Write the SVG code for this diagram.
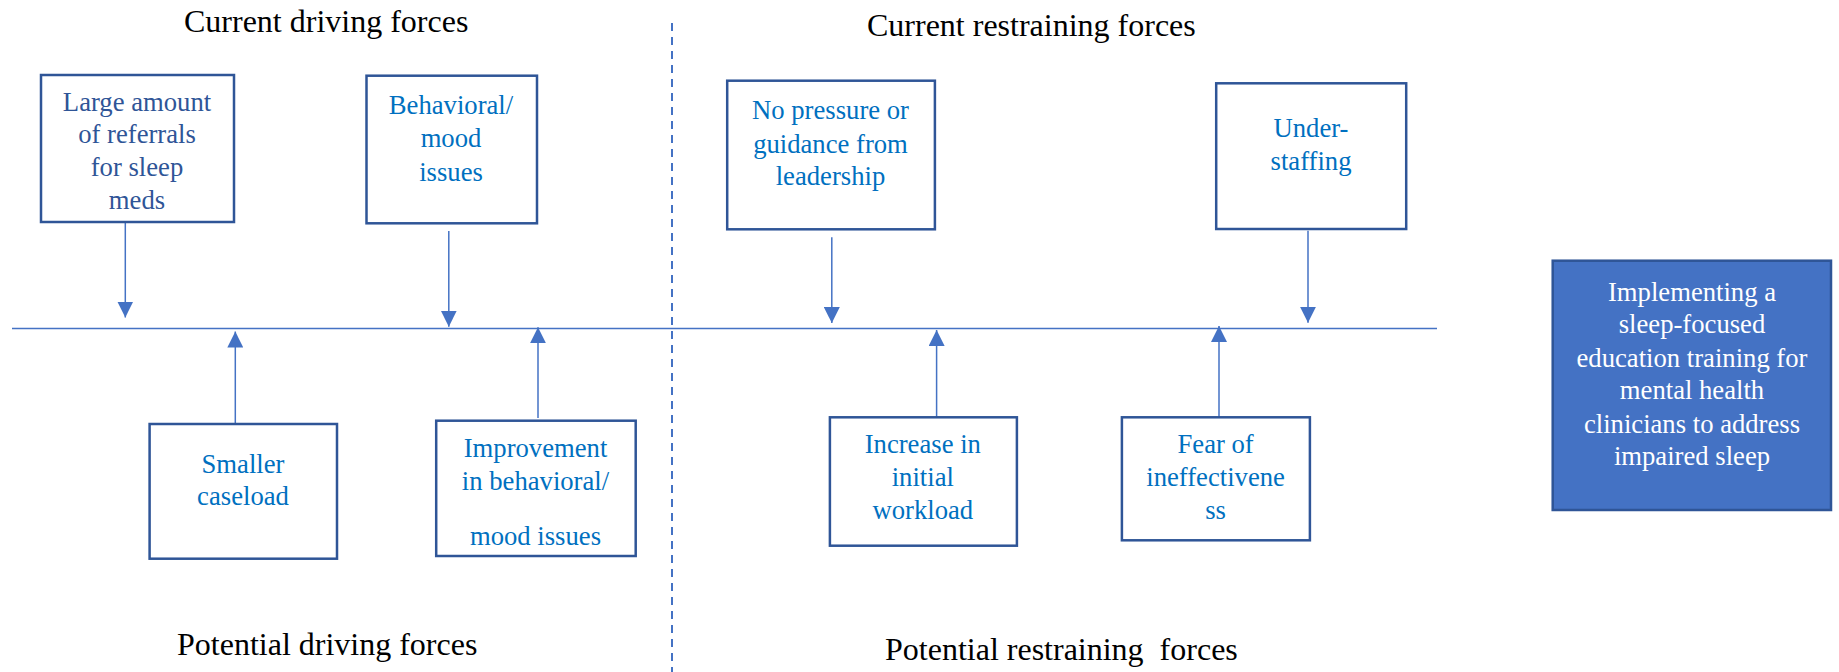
<svg xmlns="http://www.w3.org/2000/svg" width="1839" height="672" viewBox="0 0 1839 672">
<style>
  .title { font-family: "Liberation Serif", "Times New Roman", serif; font-size: 32px; fill: #000000; white-space: pre; }
  .box { fill: #FFFFFF; stroke: #2F5597; stroke-width: 2.5; }
  .goal { fill: #4472C4; stroke: #2F5597; stroke-width: 2.5; }
  .lbl { font-family: "Liberation Serif", "Times New Roman", serif; font-size: 26.67px; fill: #0070C0; text-anchor: middle; }
  .lbl-dark { fill: #2F5597; }
  .lbl-white { fill: #FFFFFF; }
  .conn { stroke: #4472C4; stroke-width: 1.5; fill: none; }
  .axis { stroke: #4472C4; stroke-width: 1.5; fill: none; }
  .divider { stroke: #4472C4; stroke-width: 2; stroke-dasharray: 8 6; fill: none; }
</style>
<defs>
  <marker id="arrow" markerUnits="userSpaceOnUse" markerWidth="16" markerHeight="16" viewBox="0 0 15 15" refX="15" refY="7.5" orient="auto">
    <path d="M0,0 L15,7.5 L0,15 z" fill="#4472C4"/>
  </marker>
</defs>

<g id="titles">
  <text class="title" x="184" y="32">Current driving forces</text>
  <text class="title" x="867" y="36">Current restraining forces</text>
  <text class="title" x="177" y="655">Potential driving forces</text>
  <text class="title" x="885" y="660">Potential restraining  forces</text>
</g>

<g id="connectors">
  <line class="divider" x1="672" y1="23" x2="672" y2="672"/>
  <line class="axis" x1="12" y1="328.5" x2="1437" y2="328.5"/>
  <line class="conn" x1="125.3" y1="222.3" x2="125.3" y2="317.5" marker-end="url(#arrow)"/>
  <line class="conn" x1="448.8" y1="231" x2="448.8" y2="326.7" marker-end="url(#arrow)"/>
  <line class="conn" x1="831.8" y1="237.3" x2="831.8" y2="323" marker-end="url(#arrow)"/>
  <line class="conn" x1="1308" y1="230.7" x2="1308" y2="322.7" marker-end="url(#arrow)"/>
  <line class="conn" x1="235.3" y1="423" x2="235.3" y2="331.5" marker-end="url(#arrow)"/>
  <line class="conn" x1="538" y1="418" x2="538" y2="327.3" marker-end="url(#arrow)"/>
  <line class="conn" x1="936.6" y1="421.7" x2="936.6" y2="330" marker-end="url(#arrow)"/>
  <line class="conn" x1="1219" y1="417" x2="1219" y2="326" marker-end="url(#arrow)"/>
</g>

<g id="node-referrals">
  <rect class="box" x="41" y="75" width="193" height="147"/>
  <text class="lbl lbl-dark" x="137" y="111">Large amount</text>
  <text class="lbl lbl-dark" x="137" y="143.3">of referrals</text>
  <text class="lbl lbl-dark" x="137" y="176">for sleep</text>
  <text class="lbl lbl-dark" x="137" y="209.3">meds</text>
</g>

<g id="node-behavioral">
  <rect class="box" x="366.5" y="75.7" width="170.5" height="147.6"/>
  <text class="lbl" x="451" y="114">Behavioral/</text>
  <text class="lbl" x="451" y="147">mood</text>
  <text class="lbl" x="451" y="180.7">issues</text>
</g>

<g id="node-pressure">
  <rect class="box" x="727.2" y="80.7" width="207.7" height="148.6"/>
  <text class="lbl" x="830.5" y="119.3">No pressure or</text>
  <text class="lbl" x="830.5" y="152.7">guidance from</text>
  <text class="lbl" x="830.5" y="185.3">leadership</text>
</g>

<g id="node-understaffing">
  <rect class="box" x="1216.2" y="83.3" width="190" height="145.7"/>
  <text class="lbl" x="1311" y="136.7">Under-</text>
  <text class="lbl" x="1311" y="170">staffing</text>
</g>

<g id="node-caseload">
  <rect class="box" x="149.6" y="424" width="187.4" height="134.7"/>
  <text class="lbl" x="243" y="472.7">Smaller</text>
  <text class="lbl" x="243" y="504.7">caseload</text>
</g>

<g id="node-improvement">
  <rect class="box" x="436.2" y="420.7" width="199.5" height="135.3"/>
  <text class="lbl" x="535.5" y="456.7">Improvement</text>
  <text class="lbl" x="535.5" y="490">in behavioral/</text>
  <text class="lbl" x="535.5" y="545">mood issues</text>
</g>

<g id="node-workload">
  <rect class="box" x="829.9" y="417.3" width="187" height="128.4"/>
  <text class="lbl" x="922.8" y="453.3">Increase in</text>
  <text class="lbl" x="922.8" y="486">initial</text>
  <text class="lbl" x="922.8" y="519">workload</text>
</g>

<g id="node-fear">
  <rect class="box" x="1121.9" y="417.3" width="188" height="123"/>
  <text class="lbl" x="1215.6" y="453.3">Fear of</text>
  <text class="lbl" x="1215.6" y="486">ineffectivene</text>
  <text class="lbl" x="1215.6" y="518.7">ss</text>
</g>

<g id="node-goal">
  <rect class="goal" x="1552.7" y="260.7" width="278.3" height="249.3"/>
  <text class="lbl lbl-white" x="1692" y="301">Implementing a</text>
  <text class="lbl lbl-white" x="1692" y="333.3">sleep-focused</text>
  <text class="lbl lbl-white" x="1692" y="366.7">education training for</text>
  <text class="lbl lbl-white" x="1692" y="399.3">mental health</text>
  <text class="lbl lbl-white" x="1692" y="432.7">clinicians to address</text>
  <text class="lbl lbl-white" x="1692" y="465.3">impaired sleep</text>
</g>
</svg>
